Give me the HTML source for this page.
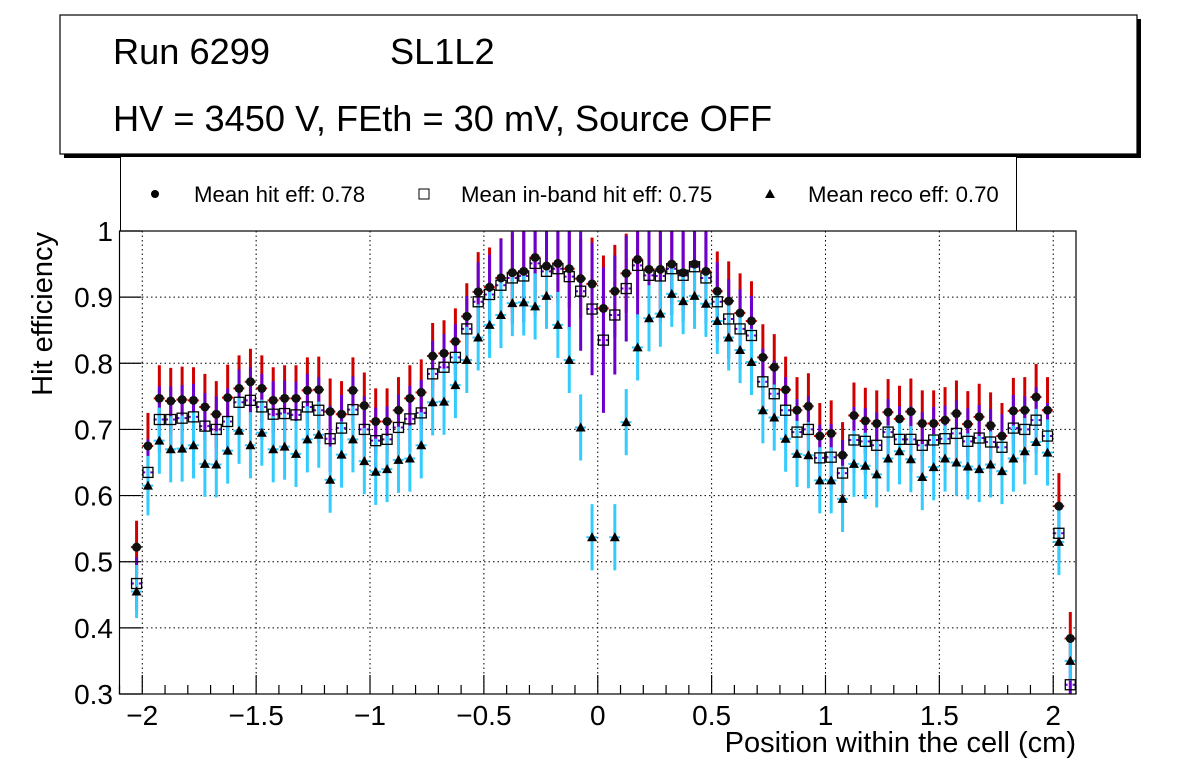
<!DOCTYPE html>
<html><head><meta charset="utf-8"><style>
body{margin:0;background:#fff;}
svg{display:block;font-family:"Liberation Sans",sans-serif;}
</style></head><body>
<svg id="chart" width="1196" height="772" viewBox="0 0 1196 772" xmlns="http://www.w3.org/2000/svg">
<rect x="0" y="0" width="1196" height="772" fill="#fff"/>
<g>
<rect x="64" y="19" width="1077" height="139" fill="#000"/>
<rect x="60" y="15" width="1077" height="139" fill="#fff" stroke="#000" stroke-width="1.2"/>
<text x="113" y="64" font-size="36.2">Run 6299</text>
<text x="390" y="64" font-size="36.2">SL1L2</text>
<text x="113" y="131" font-size="36.2">HV = 3450 V, FEth = 30 mV, Source OFF</text>
</g>
<g>
<polyline points="120.5,157 120.5,231 1016.5,231 1016.5,157" fill="#fff" stroke="#000" stroke-width="1"/>
<circle cx="155" cy="194" r="4" fill="#000"/>
<text x="194" y="202" font-size="22.2">Mean hit  eff: 0.78</text>
<rect x="419" y="189" width="10" height="10" fill="#fff" stroke="#000"/>
<text x="461" y="202" font-size="22.2">Mean in-band hit eff: 0.75</text>
<polygon points="770,189 765,198 775,198" fill="#000"/>
<text x="808" y="202" font-size="22.2">Mean reco eff: 0.70</text>
</g>
<g id="grid"></g>
<g id="marks"></g>
<rect x="119.5" y="231" width="956.5" height="463" fill="none" stroke="#000" stroke-width="1.2"/>
<g id="axes"></g>
<text transform="translate(52,232) rotate(-90)" text-anchor="end" font-size="29">Hit efficiency</text>
<text x="1076" y="752" text-anchor="end" font-size="29">Position within the cell (cm)</text>
</svg>
<script>
const hitEff=[.522,.675,.747,.743,.745,.744,.734,.723,.748,.762,.772,.762,.744,.747,.747,.759,.760,.727,.723,.759,.736,
.712,.712,.729,.747,.756,.811,.815,.833,.871,.908,.915,.929,.937,.939,.960,.947,.951,.943,.928,.920,.883,
.909,.936,.957,.942,.942,.950,.937,.950,.939,.909,.894,.876,.864,.809,.794,.760,.729,.735,.690,.694,.661,
.721,.713,.709,.726,.716,.727,.709,.709,.714,.724,.708,.719,.706,.690,.728,.729,.749,.729,.584,.384];
const inbandEff=[.467,.635,.715,.715,.717,.719,.705,.700,.712,.741,.744,.734,.723,.724,.722,.734,.729,.686,.702,.730,.700,
.683,.685,.703,.716,.725,.784,.794,.809,.852,.893,.904,.918,.929,.932,.951,.939,.943,.931,.909,.882,.835,
.873,.913,.948,.933,.932,.943,.933,.946,.929,.893,.867,.852,.842,.772,.754,.729,.696,.700,.657,.658,.634,
.684,.682,.676,.696,.685,.685,.676,.684,.686,.694,.682,.687,.681,.673,.702,.700,.714,.690,.543,.314];
const recoEff=[.455,.615,.683,.670,.671,.676,.648,.647,.668,.698,.676,.695,.670,.674,.663,.685,.692,.624,.662,.685,.652,
.636,.640,.654,.656,.676,.741,.742,.767,.805,.839,.858,.873,.891,.892,.886,.902,.858,.805,.703,.537,null,
.537,.711,.824,.868,.875,.905,.894,.902,.890,.864,.839,.820,.802,.729,.718,.686,.663,.661,.623,.623,.595,
.648,.645,.632,.656,.667,.655,.628,.643,.656,.650,.644,.640,.647,.637,.656,.667,.681,.665,.530,.350];
const hitErr=[.04,.05,.05,.05,.05,.05,.05,.05,.05,.05,.05,.05,.05,.05,.05,.05,.05,.05,.05,.05,.05,
.05,.05,.05,.05,.05,.05,.05,.05,.05,.06,.06,.06,.06,.06,.06,.06,.06,.06,.06,.07,.08,
.07,.06,.06,.06,.06,.06,.06,.06,.06,.06,.06,.06,.06,.05,.05,.05,.05,.05,.05,.05,.05,
.05,.05,.05,.05,.05,.05,.05,.05,.05,.05,.05,.05,.05,.05,.05,.05,.05,.05,.05,.04];
const inbandErr=[.04,.05,.05,.05,.05,.05,.05,.05,.05,.05,.05,.05,.05,.05,.05,.05,.05,.05,.05,.05,.05,
.05,.05,.05,.05,.05,.05,.05,.05,.05,.06,.06,.07,.07,.07,.08,.08,.08,.08,.09,.10,.11,
.09,.08,.08,.07,.07,.07,.07,.07,.07,.06,.06,.06,.06,.05,.05,.05,.05,.05,.05,.05,.05,
.05,.05,.05,.05,.05,.05,.05,.05,.05,.05,.05,.05,.05,.05,.05,.05,.05,.05,.04,.03];
const recoErr=[.04,.045,.05,.05,.05,.05,.05,.05,.05,.05,.05,.05,.05,.05,.05,.05,.05,.05,.05,.05,.05,
.05,.05,.05,.05,.05,.05,.05,.05,.05,.05,.05,.05,.05,.05,.05,.05,.05,.05,.05,.05,0,
.05,.05,.05,.05,.05,.05,.05,.05,.05,.05,.05,.05,.05,.05,.05,.05,.05,.05,.05,.05,.05,
.05,.05,.05,.05,.05,.05,.05,.05,.05,.05,.05,.05,.05,.05,.05,.05,.05,.05,.05,.03];
const binStart=-2.025, binWidth=0.05;
const xTickLabels=["\u22122","\u22121.5","\u22121","\u22120.5","0","0.5","1","1.5","2"];
const xTickValues=[-2,-1.5,-1,-0.5,0,0.5,1,1.5,2];
const yTickLabels=["0.3","0.4","0.5","0.6","0.7","0.8","0.9","1"];
const yTickValues=[0.3,0.4,0.5,0.6,0.7,0.8,0.9,1.0];

const NS="http://www.w3.org/2000/svg";
const L=119.5,R=1076,T=231,B=694,XMIN=-2.1,XMAX=2.1,YMIN=0.3,YMAX=1.0;
function sx(v){return L+(v-XMIN)/(XMAX-XMIN)*(R-L);}
function sy(v){return B-(v-YMIN)/(YMAX-YMIN)*(B-T);}
function mk(tag,attrs,parent){const e=document.createElementNS(NS,tag);for(const k in attrs)e.setAttribute(k,attrs[k]);parent.appendChild(e);return e;}
const grid=document.getElementById('grid'),axes=document.getElementById('axes'),marks=document.getElementById('marks');
xTickValues.forEach((v,i)=>{
  const x=sx(v);
  const g=mk('line',{x1:x,x2:x,y1:T,y2:B,stroke:'#000','stroke-dasharray':'1.5,3','stroke-width':1},grid);
  
  
  const t=mk('line',{x1:x,x2:x,y1:B,y2:B-19,stroke:'#000','stroke-width':1.2},axes);
  
  
  const lb=mk('text',{x:x,y:725,'text-anchor':'middle','font-size':28},axes);
  lb.textContent=xTickLabels[i];
  
  
});
for(let k=-21;k<=21;k++){
  if(k%5===0)continue;
  const x=sx(k/10);
  const t=mk('line',{x1:x,x2:x,y1:B,y2:B-9,stroke:'#000','stroke-width':1.2},axes);
  
  
}
yTickValues.forEach((v,i)=>{
  const y=sy(v);
  if(i>0&&i<yTickValues.length-1){
    const g=mk('line',{x1:L,x2:R,y1:y,y2:y,stroke:'#000','stroke-dasharray':'1.5,3','stroke-width':1},grid);
    
    
  }
  const t=mk('line',{x1:L,x2:L+22,y1:y,y2:y,stroke:'#000','stroke-width':1.2},axes);
  
  
  const lb=mk('text',{x:113,y:y+10,'text-anchor':'end','font-size':28},axes);
  lb.textContent=yTickLabels[i];
  
  
});
const clipId='plotclip';
const cp=mk('clipPath',{id:clipId},marks);mk('rect',{x:L,y:T,width:R-L,height:B-T},cp);
marks.setAttribute('clip-path','url(#'+clipId+')');
function errbars(vals,errs,color,name){
  vals.forEach((v,i)=>{
    if(v===null)return;
    const xc=binStart+binWidth*i, x=sx(xc);
    const e=mk('line',{x1:x,x2:x,y1:sy(v+errs[i]),y2:sy(v-errs[i]),stroke:color,'stroke-width':3},marks);
    
    
    const h=mk('line',{x1:sx(xc-binWidth/2),x2:sx(xc+binWidth/2),y1:sy(v),y2:sy(v),stroke:color,'stroke-width':2,'stroke-dasharray':'3,5'},marks);
    
    
  });
}
errbars(hitEff,hitErr,'#d00000','hit-eff');
errbars(inbandEff,inbandErr,'#6a00d0','inband-eff');
errbars(recoEff,recoErr,'#33ccff','reco-eff');
inbandEff.forEach((v,i)=>{
  const x=sx(binStart+binWidth*i),y=sy(v);
  const m=mk('rect',{x:x-5,y:y-5,width:10,height:10,fill:'none',stroke:'#000','stroke-width':1.3},marks);
  
  
});
hitEff.forEach((v,i)=>{
  const x=sx(binStart+binWidth*i),y=sy(v);
  const m=mk('circle',{cx:x,cy:y,r:4.5,fill:'#111'},marks);
  
  
});
recoEff.forEach((v,i)=>{
  if(v===null)return;
  const x=sx(binStart+binWidth*i),y=sy(v);
  const m=mk('polygon',{points:`${x},${y-5} ${x-5},${y+4} ${x+5},${y+4}`,fill:'#000'},marks);
  
  
});
</script>
</body></html>
